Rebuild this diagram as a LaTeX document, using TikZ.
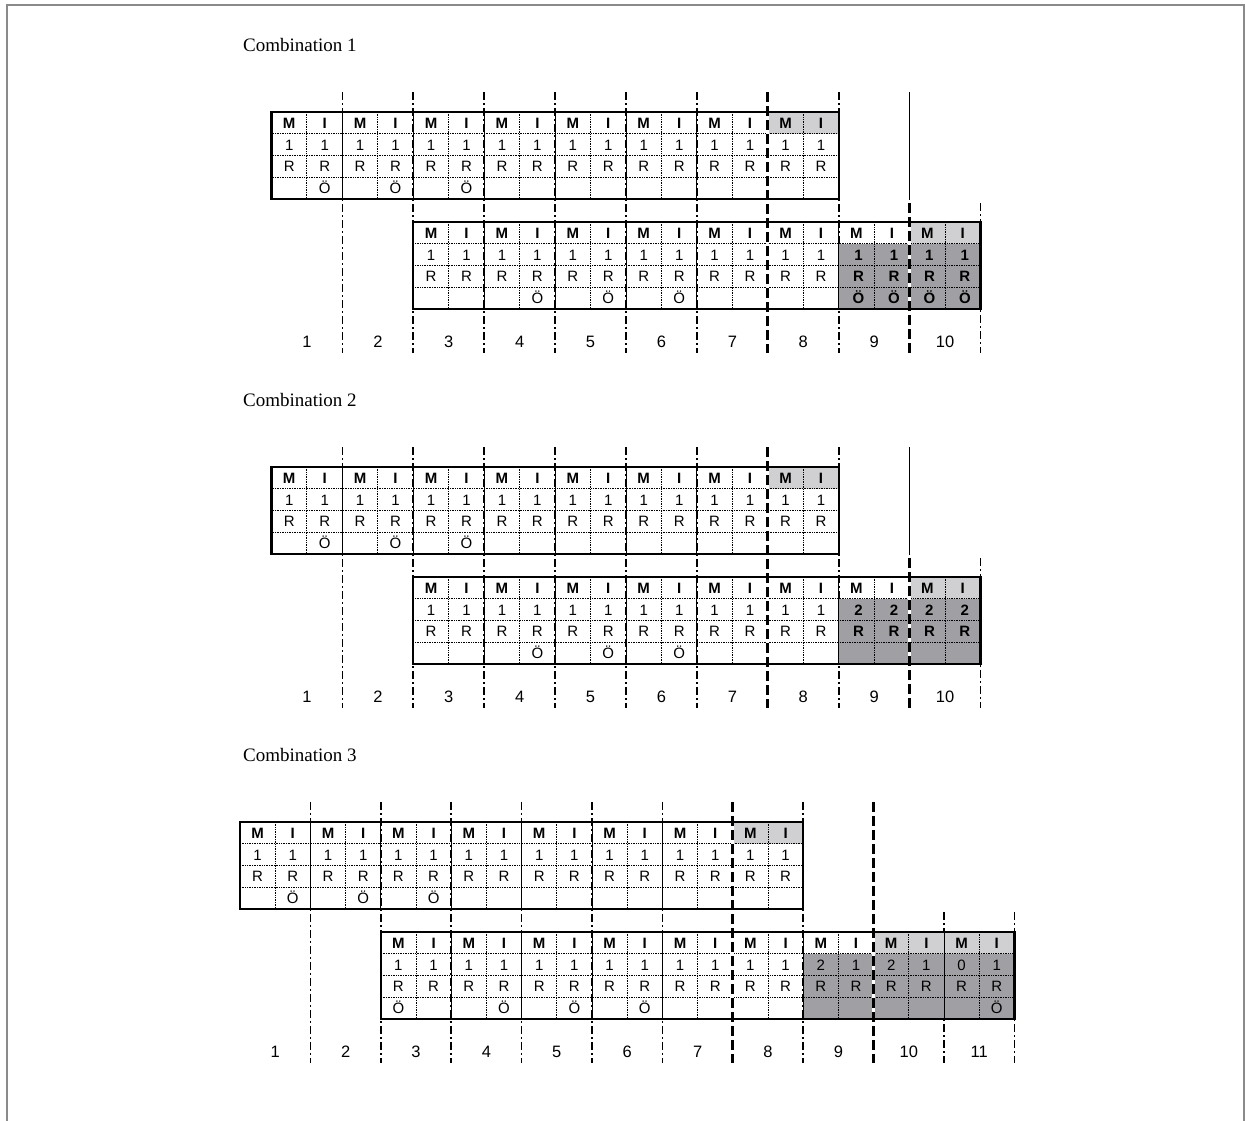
\documentclass[tikz,border=0pt]{standalone}
\usepackage{fontspec}
\setmainfont{Liberation Serif}
\newfontfamily\cellfont{Liberation Sans}
\definecolor{ltg}{HTML}{D0D0D2}
\definecolor{dkg}{HTML}{A0A0A4}
\definecolor{framec}{HTML}{8A8A8A}
\newcommand\cellsize{\fontsize{15}{15}\selectfont}
\newcommand\numsize{\fontsize{16.5}{16.5}\selectfont}
\tikzset{
  cell/.style={font=\cellfont\cellsize, inner sep=0pt, anchor=base},
  titletext/.style={font=\fontsize{19}{19}\selectfont, anchor=base west, inner sep=0pt},
  numtext/.style={font=\cellfont\numsize, inner sep=0pt, anchor=base},
  dashdot/.style={line width=1.7pt, dash pattern=on 8pt off 3pt on 2pt off 3pt},
  thickdash/.style={line width=3.2pt, dash pattern=on 10pt off 4pt, preaction={draw=white, solid, line width=3.2pt}},
  outerline/.style={line width=2.2pt},
  innerline/.style={line width=1pt, dash pattern=on 1pt off 0.7pt},
  pairline/.style={line width=1pt},
  frameline/.style={line width=1.5pt, draw=framec},
}
\def\H{21.8}
\def\BL{16.3}
% one pair of columns: #1 pair index, #2 top y, #3 M-row fill, #4 lower fill, #5 font switch, #6/#7 row 2, #8/#9 row 4
\newcommand\pairc[9]{%
  \pgfmathsetmacro\xa{\X+#1*\W}%
  \pgfmathsetmacro\xb{\xa+\W}%
  \pgfmathsetmacro\xl{\xa+\W/4}%
  \pgfmathsetmacro\xr{\xa+3*\W/4}%
  \path[#3] (\xa,#2) rectangle (\xb,{#2+\H});
  \path[#4] (\xa,{#2+\H}) rectangle (\xb,{#2+4*\H});
  \node[cell] (\pfx-m#1) at (\xl,{#2+\BL}) {\bfseries M};
  \node[cell] (\pfx-i#1) at (\xr,{#2+\BL}) {\bfseries I};
  \node[cell] (\pfx-a#1) at (\xl,{#2+\H+\BL}) {#5 #6};
  \node[cell] (\pfx-b#1) at (\xr,{#2+\H+\BL}) {#5 #7};
  \node[cell] (\pfx-c#1) at (\xl,{#2+2*\H+\BL}) {#5 R};
  \node[cell] (\pfx-d#1) at (\xr,{#2+2*\H+\BL}) {#5 R};
  \node[cell] (\pfx-e#1) at (\xl,{#2+3*\H+\BL}) {#5 #8};
  \node[cell] (\pfx-f#1) at (\xr,{#2+3*\H+\BL}) {#5 #9};
}
% grid of a table: #1 first pair, #2 last pair, #3 top y
\newcommand\gridt[3]{%
  \pgfmathsetmacro\ga{\X+#1*\W}%
  \pgfmathsetmacro\gb{\X+(#2+1)*\W}%
  \foreach \rr in {1,2,3}{\draw[innerline] (\ga,{#3+\rr*\H}) -- (\gb,{#3+\rr*\H});}
  \foreach \pp in {#1,...,#2}{\draw[innerline] ({\X+(\pp+0.5)*\W},#3) -- ({\X+(\pp+0.5)*\W},{#3+4*\H});}
  \pgfmathtruncatemacro\pa{#1+1}%
  \foreach \pp in {\pa,...,#2}{\draw[pairline] ({\X+\pp*\W},#3) -- ({\X+\pp*\W},{#3+4*\H});}
  \draw[outerline] (\ga,#3) rectangle (\gb,{#3+4*\H});
}
\newcommand\colline[4]{\draw[#4] ({\X+#1*\W},{\OY+#2}) -- ({\X+#1*\W},{\OY+#3});}
% first table (same in all three combinations)
\newcommand\firsttable{%
  \def\pfx{\CN a}%
  \pairc{0}{\OY+112}{}{}{}{1}{1}{}{Ö}
  \pairc{1}{\OY+112}{}{}{}{1}{1}{}{Ö}
  \pairc{2}{\OY+112}{}{}{}{1}{1}{}{Ö}
  \foreach \q in {3,...,6}{\pairc{\q}{\OY+112}{}{}{}{1}{1}{}{}}
  \pairc{7}{\OY+112}{fill=ltg}{}{}{1}{1}{}{}
  \gridt{0}{7}{\OY+112}
}
\begin{document}
\begin{tikzpicture}[x=1pt,y=-1pt]
\useasboundingbox (0,0) rectangle (1245,1120);
\draw[frameline] (7,1125) -- (7,5) -- (1244,5) -- (1244,1125);

% ---------------- Combination 1 ----------------
\def\X{271.5}\def\W{70.9}\def\OY{0}\def\CN{c1}
\node[titletext] (t1) at (243,{\OY+51}) {Combination 1};
\foreach \k in {1,...,6,8}{\colline{\k}{92}{353}{dashdot}}
\colline{9}{92}{200}{pairline}
\colline{10}{203}{353}{dashdot}
\firsttable
\def\pfx{c1b}
\pairc{2}{\OY+222}{}{}{}{1}{1}{}{}
\foreach \q in {3,4,5}{\pairc{\q}{\OY+222}{}{}{}{1}{1}{}{Ö}}
\pairc{6}{\OY+222}{}{}{}{1}{1}{}{}
\pairc{7}{\OY+222}{}{}{}{1}{1}{}{}
\pairc{8}{\OY+222}{}{fill=dkg}{\bfseries}{1}{1}{Ö}{Ö}
\pairc{9}{\OY+222}{fill=ltg}{fill=dkg}{\bfseries}{1}{1}{Ö}{Ö}
\gridt{2}{9}{\OY+222}
\colline{7}{92}{353}{thickdash}
\colline{9}{203}{353}{thickdash}
\foreach \k in {1,...,10}{\node[numtext] (c1n\k) at ({\X+(\k-0.5)*\W},{\OY+347.5}) {\k};}

% ---------------- Combination 2 ----------------
\def\X{271.5}\def\W{70.9}\def\OY{355}\def\CN{c2}
\node[titletext] (t2) at (243,{\OY+51}) {Combination 2};
\foreach \k in {1,...,6,8}{\colline{\k}{92}{353}{dashdot}}
\colline{9}{92}{200}{pairline}
\colline{10}{203}{353}{dashdot}
\firsttable
\def\pfx{c2b}
\pairc{2}{\OY+222}{}{}{}{1}{1}{}{}
\foreach \q in {3,4,5}{\pairc{\q}{\OY+222}{}{}{}{1}{1}{}{Ö}}
\pairc{6}{\OY+222}{}{}{}{1}{1}{}{}
\pairc{7}{\OY+222}{}{}{}{1}{1}{}{}
\pairc{8}{\OY+222}{}{fill=dkg}{\bfseries}{2}{2}{}{}
\pairc{9}{\OY+222}{fill=ltg}{fill=dkg}{\bfseries}{2}{2}{}{}
\gridt{2}{9}{\OY+222}
\colline{7}{92}{353}{thickdash}
\colline{9}{203}{353}{thickdash}
\foreach \k in {1,...,10}{\node[numtext] (c2n\k) at ({\X+(\k-0.5)*\W},{\OY+347.5}) {\k};}

% ---------------- Combination 3 ----------------
\def\X{240}\def\W{70.4}\def\OY{710}\def\CN{c3}
\node[titletext] (t3) at (243,{\OY+51}) {Combination 3};
\foreach \k in {1,...,6,8}{\colline{\k}{92}{353}{dashdot}}
\colline{10}{202}{353}{dashdot}
\colline{11}{202}{353}{dashdot}
\firsttable
\def\pfx{c3b}
\pairc{2}{\OY+222}{}{}{}{1}{1}{Ö}{}
\foreach \q in {3,4,5}{\pairc{\q}{\OY+222}{}{}{}{1}{1}{}{Ö}}
\pairc{6}{\OY+222}{}{}{}{1}{1}{}{}
\pairc{7}{\OY+222}{}{}{}{1}{1}{}{}
\pairc{8}{\OY+222}{}{fill=dkg}{}{2}{1}{}{}
\pairc{9}{\OY+222}{fill=ltg}{fill=dkg}{}{2}{1}{}{}
\pairc{10}{\OY+222}{fill=ltg}{fill=dkg}{}{0}{1}{}{Ö}
\gridt{2}{10}{\OY+222}
\colline{7}{92}{353}{thickdash}
\colline{9}{92}{353}{thickdash}
\foreach \k in {1,...,11}{\node[numtext] (c3n\k) at ({\X+(\k-0.5)*\W},{\OY+347.5}) {\k};}
\end{tikzpicture}
\end{document}
